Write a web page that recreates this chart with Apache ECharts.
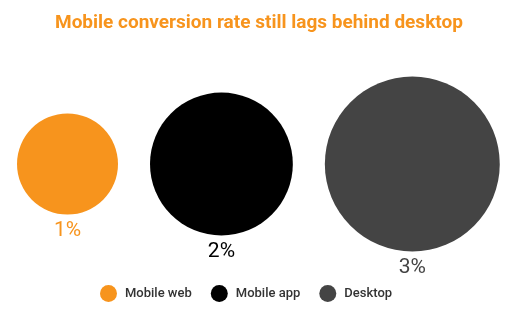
<!DOCTYPE html>
<html>
<head>
<meta charset="utf-8">
<script src="https://cdn.jsdelivr.net/npm/echarts@6/dist/echarts.min.js"></script>
<style>html,body{margin:0;padding:0;background:#fff}#c{width:529px;height:327px}</style>
</head>
<body>
<div id="c"></div>
<script>
var categories = ['Mobile web', 'Mobile app', 'Desktop'];
var values = [1, 2, 3];
var labels = ['1%', '2%', '3%'];
var colors = ['#F7941D', '#000000', '#444444'];

var unitDiameter = 101;   // px diameter for value 1 (area-proportional)
var leftMargin = 17, gap = 32;

var chart = echarts.init(document.getElementById('c'));
var sizes = values.map(function (v) { return Math.sqrt(v) * unitDiameter; });
var xs = [];
var cursor = leftMargin;
sizes.forEach(function (s) { xs.push(cursor + s / 2); cursor += s + gap; });

var series = categories.map(function (name, i) {
  return {
    name: name,
    type: 'scatter',
    data: [[xs[i], 0, values[i]]],
    symbol: 'circle',
    symbolSize: function (d) { return Math.sqrt(d[2]) * unitDiameter; },
    itemStyle: { color: colors[i], opacity: 1 },
    label: {
      show: true,
      position: 'bottom',
      distance: 6,
      formatter: labels[i],
      color: colors[i],
      fontSize: 21,
      fontFamily: 'Roboto'
    },
    emphasis: { disabled: true },
    silent: true
  };
});

chart.setOption({
  animation: false,
  title: {
    text: 'Mobile conversion rate still lags behind desktop',
    left: 50,
    top: 9,
    textStyle: { color: '#F7941D', fontSize: 19, fontWeight: 'bold', fontFamily: 'Roboto' }
  },
  legend: {
    data: categories.map(function (n, i) { return { name: n, itemStyle: { color: colors[i] } }; }),
    top: 285,
    left: 100,
    padding: 0,
    icon: 'circle',
    itemWidth: 17,
    itemHeight: 17,
    itemGap: 19,
    textStyle: { color: '#333', fontSize: 13, fontWeight: 500, fontFamily: 'Roboto', padding: [0, 0, 0, 3] }
  },
  grid: { left: 0, right: 0, top: 64, bottom: 63, containLabel: false },
  xAxis: { type: 'value', min: 0, max: 529, show: false },
  yAxis: { type: 'value', min: -1, max: 1, show: false },
  series: series
});
</script>
</body>
</html>
